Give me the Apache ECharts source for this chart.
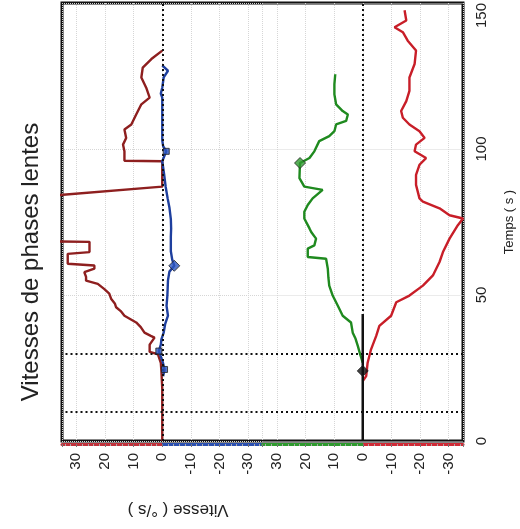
<!DOCTYPE html>
<html>
<head>
<meta charset="utf-8">
<script src="https://cdn.jsdelivr.net/npm/echarts@6.0.0/dist/echarts.min.js"></script>
<style>
  html, body { margin: 0; padding: 0; background: #fff; }
  #main { width: 520px; height: 529px; }
</style>
</head>
<body>
<div id="main"></div>
<script>
// time (s) and slow-phase velocity (deg/s)
const leftRedTime = [0, 18, 24, 26.8, 29.7, 30.5, 33, 35.4, 36, 37.1, 39, 40.6, 42.9, 44.5, 45.8, 47, 48.6, 50.5, 52, 53.8, 54.9, 56.2, 57.8, 59, 60.1, 60.7, 64.1, 64.7, 68.2, 68.4, 83.5, 87.1, 95.8, 96, 99.2, 101.5, 103.8, 106.7, 108.4, 111.8, 115.3, 117.6, 121, 124.5, 127.9, 130.8, 133.7];
const leftRedVel = [0, 0, 0.3, 0.5, 1.5, 4.4, 4.4, 2.7, 4, 6.2, 7.5, 9.1, 13.2, 14.5, 16.1, 16.5, 17.8, 18.5, 20.2, 22.5, 26.6, 26.6, 27.2, 23.7, 23.7, 33, 33, 25.4, 25.4, 45, 45, 0, 0, 13.2, 13.2, 13.7, 12.6, 13.2, 10.8, 9.1, 7.3, 4.4, 5.6, 7.3, 6.8, 3.8, 0];

const leftBlueTime = [22.2, 24.5, 27, 30.8, 33, 34.8, 37.1, 40, 42.9, 46.3, 50, 55, 58, 60, 62, 65, 70, 72.8, 76, 80, 83, 87, 91, 95.8, 99.2, 101, 103, 110, 117.6, 119, 121, 124.5, 126.8, 128.6];
const leftBlueVel = [-0.3, -0.8, -0.2, 1.2, 0.5, 0.3, -0.5, -1, -2, -1.5, -1.8, -2, -2.5, -4.2, -3.5, -3, -3, -3.1, -3, -2.5, -1.9, -1.2, -0.7, 0, -1.4, -0.3, 0, 0, 0, 0.5, 0, -0.5, -2, 0];

const rightGreenTime = [26.8, 30, 32.5, 35, 37.1, 40.6, 42.9, 46.3, 49.8, 53.2, 56, 59, 62.4, 63, 65.9, 67, 69.3, 71.6, 72.8, 76.2, 78.5, 80.8, 83.1, 86, 87.1, 90, 93, 95.2, 96.9, 99.2, 102.7, 104.4, 106.1, 108.4, 109.6, 111.8, 113, 115.3, 118.7, 122.2, 125.6];
const rightGreenVel = [0, 1, 1.7, 2.5, 3.5, 4.1, 7, 8.7, 10.5, 11.7, 12, 12.2, 12.8, 19.2, 19.2, 16.9, 16.3, 18, 18.6, 20.4, 20.4, 19.2, 17.5, 14, 20.4, 22.1, 22, 21.9, 18.6, 16.9, 15.2, 11.7, 9.9, 9.3, 5.8, 5.2, 7, 9.3, 9.9, 9.9, 9.6];

const rightRedTime = [20.5, 22.2, 26.8, 31.4, 36, 39.4, 42.9, 47.5, 49.8, 53.2, 56.7, 61.3, 64.7, 69.3, 73.9, 76.2, 77.3, 79.7, 82, 83.1, 87.7, 91.1, 94.6, 96.9, 99.2, 101.5, 103.8, 106.1, 108.4, 110.7, 113, 116.4, 119.9, 124.5, 129.1, 133.7, 137.1, 140, 141.7, 144, 147.5];
const rightRedVel = [0, -1.2, -1.7, -2.9, -4.7, -5.8, -9.9, -11.7, -16.3, -21, -24.5, -26.8, -28, -30.3, -33.2, -35, -30.3, -26.8, -21, -19.8, -18.6, -18.6, -19.8, -22.1, -18.1, -18.6, -21.6, -19.8, -16.3, -14, -13.4, -15.2, -16.3, -16.3, -18.1, -18.6, -15.7, -14, -11.1, -15.2, -14.6];

const rightBlackTime = [0, 43.5];
const rightBlackVel = [0, 0];

// marker points
const blueKeyTime = [60];
const blueKeyVel = [-4.2];
const blueDotTime = [24.5, 30.8, 99.2];
const blueDotVel = [-0.8, 1.2, -1.4];
const greenKeyTime = [95.2];
const greenKeyVel = [21.9];
const blackKeyTime = [24];
const blackKeyVel = [0];

// stimulus events (s)
const eventTimes = [10, 30];
const timeTicks = [0, 150, 50];

const zip = (vel, time) => vel.map((v, i) => [v, time[i]]);
const font = 'Liberation Sans';

function twoTone(a, b) {
  return new echarts.graphic.LinearGradient(0, 0, 1, 0, [
    { offset: 0, color: a }, { offset: 0.5, color: a },
    { offset: 0.5, color: b }, { offset: 1, color: b }
  ]);
}

function velAxis(grid, colA, colB) {
  return {
    type: 'value', gridIndex: grid, min: -35, max: 35, splitNumber: 7, inverse: true,
    position: 'bottom', offset: 3,
    axisLine: { show: true, onZero: false, lineStyle: { width: 3, color: twoTone(colA, colB) } },
    axisTick: { show: true, length: 3, lineStyle: { color: '#777' } },
    minorTick: { show: true, splitNumber: 5, length: 2, lineStyle: { color: '#aaa' } },
    axisLabel: { rotate: 90, margin: 9, fontSize: 15, color: '#222', fontFamily: font,
      showMinLabel: false, showMaxLabel: false },
    splitLine: { show: true, lineStyle: { color: '#d6d6d6', type: 'dotted' } }
  };
}

function timeAxis(grid) {
  return {
    type: 'value', gridIndex: grid, min: timeTicks[0], max: timeTicks[1], interval: timeTicks[2],
    axisLine: { show: false }, axisTick: { show: false }, axisLabel: { show: false },
    splitLine: { show: true, lineStyle: { color: '#d6d6d6', type: 'dotted' } }
  };
}

const dotted = {
  symbol: ['none', 'none'], silent: true, label: { show: false },
  lineStyle: { color: '#111', type: [2, 3], width: 2 },
  data: [{ xAxis: 0 }].concat(eventTimes.map(t => ({ yAxis: t })))
};

function curve(name, xi, vel, time, color, extra) {
  return Object.assign({
    name, type: 'line', xAxisIndex: xi, yAxisIndex: xi, data: zip(vel, time),
    symbol: 'none', lineStyle: { width: 2.4, color }, itemStyle: { color }, z: 3
  }, extra || {});
}

function marks(xi, vel, time, color, size, shape) {
  return {
    type: 'scatter', xAxisIndex: xi, yAxisIndex: xi, data: zip(vel, time),
    symbol: shape, symbolSize: size, z: 5,
    itemStyle: { color, borderColor: '#222', borderWidth: 1 }
  };
}

const chart = echarts.init(document.getElementById('main'));
chart.setOption({
  animation: false,
  backgroundColor: '#fff',
  grid: [
    { left: 62, right: 257.5, top: 3, bottom: 88, outerBoundsMode: 'none' },
    { left: 262.5, right: 57, top: 3, bottom: 88, outerBoundsMode: 'none' },
    { left: 62, right: 57, top: 3, bottom: 88, outerBoundsMode: 'none',
      show: true, borderColor: '#111', borderWidth: 3, backgroundColor: 'transparent' }
  ],
  xAxis: [
    velAxis(0, '#c0303a', '#2a4fb0'),
    velAxis(1, '#2e9a2e', '#d02a36'),
    { type: 'value', gridIndex: 2, show: false, min: 0, max: 1 }
  ],
  yAxis: [
    timeAxis(0),
    timeAxis(1),
    {
      type: 'value', gridIndex: 2, position: 'right',
      min: timeTicks[0], max: timeTicks[1], interval: timeTicks[2],
      axisLine: { show: false }, axisTick: { show: false }, splitLine: { show: false },
      axisLabel: { rotate: 90, margin: 11, fontSize: 15, color: '#222', fontFamily: font,
        alignMaxLabel: 'right' },
      name: 'Temps ( s )', nameLocation: 'middle', nameRotate: 90, nameGap: 40,
      nameTextStyle: { fontSize: 13, color: '#222', fontFamily: font }
    }
  ],
  graphic: [
    { type: 'text', x: 31, y: 262, rotation: Math.PI / 2,
      style: { text: 'Vitesses de phases lentes', font: '24px "Liberation Sans"', fill: '#222', align: 'center', verticalAlign: 'middle' } },
    { type: 'text', x: 178, y: 510, rotation: Math.PI,
      style: { text: 'Vitesse ( °/s )', font: '17px "Liberation Sans"', fill: '#222', align: 'center', verticalAlign: 'middle' } }
  ],
  series: [
    curve('gauche', 0, leftRedVel, leftRedTime, '#8e1f1f'),
    curve('gauche bleu', 0, leftBlueVel, leftBlueTime, '#1e3f9e', { markLine: dotted }),
    curve('droite vert', 1, rightGreenVel, rightGreenTime, '#1f8a1f'),
    curve('droite', 1, rightRedVel, rightRedTime, '#c81e28'),
    curve('repere', 1, rightBlackVel, rightBlackTime, '#111', { lineStyle: { width: 2.5, color: '#111' }, markLine: dotted }),
    marks(0, blueKeyVel, blueKeyTime, '#2a55c0', 11, 'diamond'),
    marks(0, blueDotVel, blueDotTime, '#2a55c0', 6, 'rect'),
    marks(1, greenKeyVel, greenKeyTime, '#2e9a2e', 11, 'diamond'),
    marks(1, blackKeyVel, blackKeyTime, '#111', 11, 'diamond')
  ]
});
</script>
</body>
</html>
